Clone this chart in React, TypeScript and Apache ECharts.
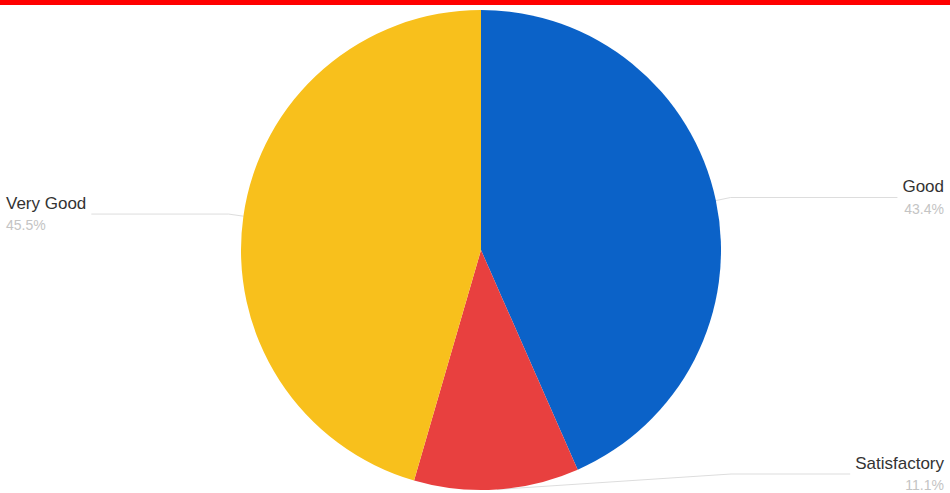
import React, { useEffect, useRef } from "react";
import * as echarts from "echarts";

const categories = ["Good", "Satisfactory", "Very Good"];
const values = [43.4, 11.1, 45.5];
const colors = ["#0b62c8", "#e8403f", "#f8c01c"];

export default function App() {
  const ref = useRef<HTMLDivElement>(null);
  useEffect(() => {
    const chart = echarts.init(ref.current!, undefined, { renderer: "svg" });
    chart.setOption({
      animation: false,
      backgroundColor: "#ffffff",
      graphic: [
        { type: "rect", left: 0, top: 0, shape: { width: 950, height: 5 }, style: { fill: "#ff0000" } },
      ],
      series: [
        {
          type: "pie",
          center: [481, 250],
          radius: 240,
          startAngle: 90,
          clockwise: true,
          data: categories.map((c, i) => ({ name: c, value: values[i], itemStyle: { color: colors[i] } })),
          label: {
            alignTo: "edge",
            edgeDistance: 6,
            formatter: "{n|{b}}\n{p|{d}%}",
            rich: {
              n: { fontSize: 17, color: "#333", fontFamily: "Liberation Sans, Arial, sans-serif", lineHeight: 22 },
              p: { fontSize: 14, color: "#c4c4c4", fontFamily: "Liberation Sans, Arial, sans-serif", lineHeight: 22 },
            },
          },
          labelLine: { length: 15, length2: 0, lineStyle: { color: "#ddd", width: 1 } },
          labelLayout: { verticalAlign: "middle" },
        },
      ],
    });
    return () => chart.dispose();
  }, []);
  return <div ref={ref} style={{ position: "fixed", left: 0, top: 0, width: 950, height: 493 }} />;
}
